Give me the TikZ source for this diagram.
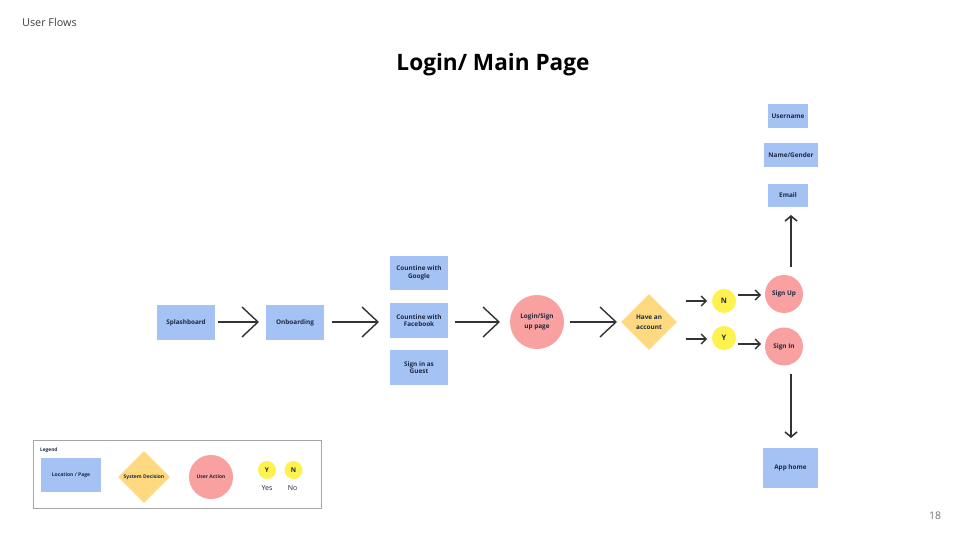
\documentclass[tikz,border=0pt]{standalone}
\usepackage{fontspec}
\setmainfont{Open Sans}
\usetikzlibrary{shapes.geometric,arrows.meta}
\definecolor{pageblue}{HTML}{A4C2F4}
\definecolor{actred}{HTML}{F9A0A0}
\definecolor{decyel}{HTML}{FFD97F}
\definecolor{ynyel}{HTML}{FFF24F}
\definecolor{inktext}{HTML}{1E2A40}
\definecolor{arrowgray}{HTML}{333333}
\tikzset{
  pagebox/.style={fill=pageblue, draw=none, minimum width=#1, inner sep=0pt, align=center,
     font=\fontsize{6.4}{7.6}\selectfont\bfseries, text=inktext},
  pagebox/.default=58pt,
  actcirc/.style={circle, fill=actred, draw=none, minimum size=#1, inner sep=0pt, align=center,
     font=\fontsize{6.4}{9.5}\selectfont\bfseries, text=inktext},
  decdiam/.style={diamond, fill=decyel, draw=none, minimum size=#1, inner sep=0pt,
     align=center, font=\fontsize{6.4}{9.5}\selectfont\bfseries, text=inktext},
  yncirc/.style={circle, fill=ynyel, draw=none, minimum size=#1, inner sep=0pt,
     font=\fontsize{7.5}{7.5}\selectfont\bfseries, text=inktext},
  bigarrow/.style={draw=arrowgray, line width=1.4pt, -{Straight Barb[length=16pt,width=30pt,line width=1.4pt]}},
  smallarrow/.style={draw=arrowgray, line width=1.3pt, -{Straight Barb[length=5pt,width=10pt,line width=1.3pt]}},
  vertarrow/.style={draw=arrowgray, line width=1.6pt, -{Straight Barb[length=5pt,width=12pt,line width=1.6pt]}},
}
\begin{document}
\begin{tikzpicture}[x=1pt,y=-1pt]
\useasboundingbox[fill=white] (0,0) rectangle (960,540);

% header texts
\node[anchor=west, font=\fontsize{10.8}{11}\selectfont, text=black!75, inner sep=0pt] (hdr) at (22,22) {User Flows};
\node[font=\fontsize{22.6}{23}\selectfont\bfseries] (title) at (493,65) {Login/ Main Page};
\node[font=\fontsize{10.5}{10.5}\selectfont, text=black!55] (pnum) at (935,516) {18};

% main flow
\node[pagebox, minimum height=35pt] (splash) at (186,322.5) {Splashboard};
\node[pagebox, minimum height=35pt] (onb) at (295,322.5) {Onboarding};
\node[pagebox, minimum height=34pt] (google) at (419,273) {Countine with\\Google};
\node[pagebox, minimum height=35pt] (fb) at (419,320.5) {Countine with\\Facebook};
\node[pagebox, minimum height=35pt] (guest) at (419,367.5) {Sign in as\\Guest};
\node[actcirc=54pt] (login) at (537,322) {Login/Sign\\up page};
\node[decdiam=56pt] (acct) at (649,322) {Have an\\account};
\node[yncirc=24pt] (nc) at (724,301) {N};
\node[yncirc=24pt] (yc) at (724,338) {Y};
\node[actcirc=38pt] (signup) at (784,294) {Sign Up};
\node[actcirc=38pt] (signin) at (784,346.5) {Sign In};
\node[pagebox=40pt, minimum height=23pt] (email) at (788,195.5) {Email};
\node[pagebox=54pt, minimum height=24pt] (namegen) at (791,155) {Name/Gender};
\node[pagebox=40pt, minimum height=24pt] (user) at (788,116) {Username};
\node[pagebox=55pt, minimum height=40pt] (home) at (790.5,468) {App home};

% helper coordinates for connectors
\coordinate (a1s) at (218,322); \coordinate (a1e) at (259,322);
\coordinate (a2s) at (332,322); \coordinate (a2e) at (379,322);
\coordinate (a3s) at (455,322); \coordinate (a3e) at (500,322);
\coordinate (a4s) at (570,322); \coordinate (a4e) at (617,322);
\coordinate (n1s) at (686,301); \coordinate (n1e) at (707,301);
\coordinate (y1s) at (686,339); \coordinate (y1e) at (707,339);
\coordinate (n2s) at (738,295); \coordinate (n2e) at (761,295);
\coordinate (y2s) at (738,344); \coordinate (y2e) at (761,344);
\coordinate (ups) at (791,267); \coordinate (upe) at (791,215);
\coordinate (dns) at (791,374); \coordinate (dne) at (791,438);

\draw[bigarrow] (a1s) -- (a1e);
\draw[bigarrow] (a2s) -- (a2e);
\draw[bigarrow] (a3s) -- (a3e);
\draw[bigarrow] (a4s) -- (a4e);
\draw[smallarrow] (n1s) -- (n1e);
\draw[smallarrow] (y1s) -- (y1e);
\draw[smallarrow] (n2s) -- (n2e);
\draw[smallarrow] (y2s) -- (y2e);
\draw[vertarrow] (ups) -- (upe);
\draw[vertarrow] (dns) -- (dne);

% legend
\node[draw=black!35, line width=1pt, minimum width=288pt, minimum height=68pt, inner sep=0pt] (legend) at (177,474) {};
\node[anchor=west, font=\fontsize{4.8}{5}\selectfont\bfseries, text=inktext, inner sep=0pt] (legtitle) at (40,450) {Legend};
\node[pagebox=60pt, minimum height=34pt, font=\fontsize{5}{6}\selectfont\bfseries] (lgpage) at (71,475) {Location / Page};
\node[decdiam=52pt, font=\fontsize{5}{6}\selectfont\bfseries] (lgdec) at (144,477) {System Decision};
\node[actcirc=44pt, font=\fontsize{5}{6}\selectfont\bfseries] (lgact) at (211,477) {User Action};
\node[yncirc=18pt, font=\fontsize{6.5}{6.5}\selectfont\bfseries] (lgy) at (267,470) {Y};
\node[yncirc=18pt, font=\fontsize{6.5}{6.5}\selectfont\bfseries] (lgn) at (293.5,470) {N};
\node[font=\fontsize{7}{7}\selectfont, text=inktext] (lgyes) at (267,488.5) {Yes};
\node[font=\fontsize{7}{7}\selectfont, text=inktext] (lgno) at (292.5,488.5) {No};
\end{tikzpicture}
\end{document}
